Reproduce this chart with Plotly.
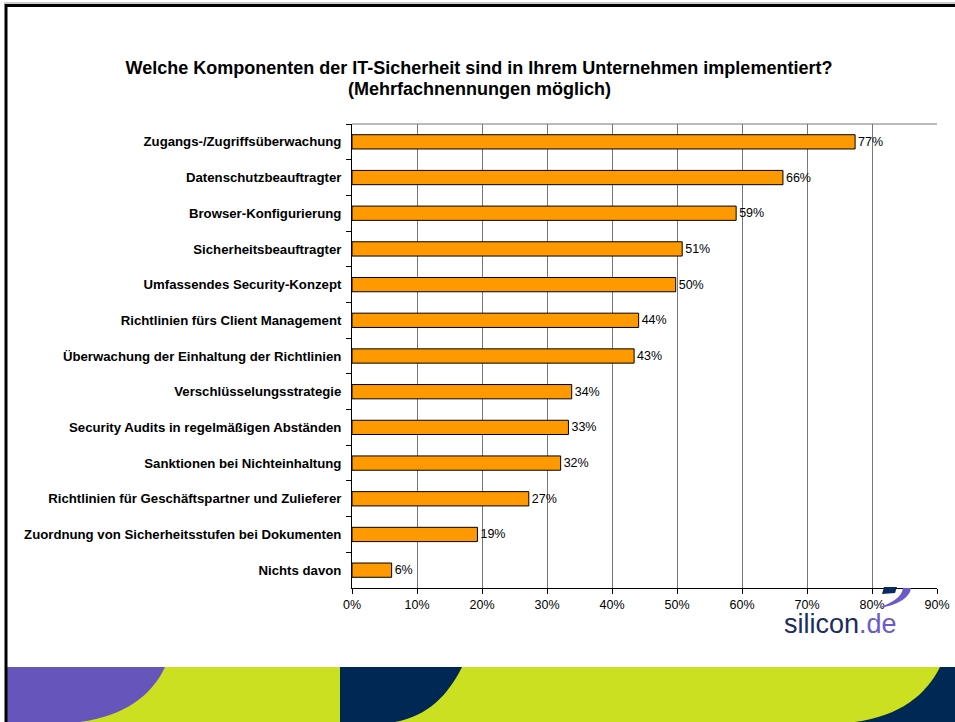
import plotly.graph_objects as go

# ---- data ----
categories = [
    "Zugangs-/Zugriffsüberwachung",
    "Datenschutzbeauftragter",
    "Browser-Konfigurierung",
    "Sicherheitsbeauftragter",
    "Umfassendes Security-Konzept",
    "Richtlinien fürs Client Management",
    "Überwachung der Einhaltung der Richtlinien",
    "Verschlüsselungsstrategie",
    "Security Audits in regelmäßigen Abständen",
    "Sanktionen bei Nichteinhaltung",
    "Richtlinien für Geschäftspartner und Zulieferer",
    "Zuordnung von Sicherheitsstufen bei Dokumenten",
    "Nichts davon",
]
values = [77.4, 66.3, 59.1, 50.8, 49.8, 44.1, 43.4, 33.8, 33.3, 32.1, 27.2, 19.3, 6.1]
value_labels = ["77%", "66%", "59%", "51%", "50%", "44%", "43%", "34%", "33%", "32%", "27%", "19%", "6%"]
x_ticks = [0, 10, 20, 30, 40, 50, 60, 70, 80, 90]
x_tick_labels = ["0%", "10%", "20%", "30%", "40%", "50%", "60%", "70%", "80%", "90%"]
title_line1 = "Welche Komponenten der IT-Sicherheit sind in Ihrem Unternehmen implementiert?"
title_line2 = "(Mehrfachnennungen möglich)"

W, H = 955, 722
FONT = "Liberation Sans, Arial, sans-serif"


def px(x):
    return x / W


def py(y):
    return 1 - y / H


fig = go.Figure()
fig.add_trace(go.Bar(
    y=categories,
    x=values,
    orientation="h",
    marker=dict(color="#FF9900", line=dict(color="#000000", width=1)),
    text=value_labels,
    textposition="outside",
    textfont=dict(family=FONT, size=12.5, color="#000000"),
    cliponaxis=False,
    hoverinfo="skip",
))

# plot area in pixels
L, R, T, B = 352, 937, 124, 588

fig.update_layout(
    width=W, height=H, autosize=False,
    margin=dict(l=0, r=0, t=0, b=0, autoexpand=False),
    paper_bgcolor="white", plot_bgcolor="white",
    showlegend=False,
    bargap=0.6,
    font=dict(family=FONT, color="#000000"),
    title=dict(
        text="<b>" + title_line1 + "</b>",
        x=px(479), xanchor="center", xref="paper",
        y=py(68), yanchor="middle", yref="paper",
        font=dict(family=FONT, size=18, color="#000000"),
    ),
    xaxis=dict(
        domain=[px(L), px(R)], automargin=False,
        range=[0, 90], tickmode="array", tickvals=x_ticks, ticktext=x_tick_labels,
        showgrid=True, gridcolor="#777777", gridwidth=1,
        showline=True, linecolor="#000000", linewidth=1,
        ticks="outside", ticklen=5, tickcolor="#000000",
        tickfont=dict(family=FONT, size=12.5, color="#000000"),
        zeroline=False, fixedrange=True,
    ),
    yaxis=dict(
        domain=[py(B), py(T)], automargin=False,
        autorange="reversed", type="category",
        showline=True, linecolor="#000000", linewidth=1,
        ticks="outside", ticklen=5, tickcolor="#000000", tickson="boundaries",
        tickfont=dict(family=FONT, size=13.2, color="#000000", weight="bold"),
        ticklabelstandoff=7,
        showgrid=False, zeroline=False, fixedrange=True,
    ),
)

fig.add_annotation(
    xref="paper", yref="paper", x=px(479), y=py(89),
    xanchor="center", yanchor="middle", showarrow=False,
    text="<b>" + title_line2 + "</b>",
    font=dict(family=FONT, size=18, color="#000000"),
)

shapes = []
# top border of the plot area (grey)
shapes.append(dict(type="line", xref="paper", yref="paper",
                   x0=px(L), x1=px(R), y0=py(T), y1=py(T),
                   line=dict(color="#777777", width=1)))


def ppath(cmds):
    out = []
    for c in cmds:
        if isinstance(c, str):
            out.append(c)
        else:
            out.append(f"{px(c[0]):.5f},{py(c[1]):.5f}")
    return " ".join(out)


# bottom decorative band
band_top, band_bot = 667, 722
shapes.append(dict(type="rect", xref="paper", yref="paper",
                   x0=px(6), x1=1, y0=py(band_bot), y1=py(band_top),
                   fillcolor="#CCE022", line=dict(width=0), layer="above"))
shapes.append(dict(type="path", xref="paper", yref="paper", layer="above",
                   path=ppath(["M", (6, band_top), "L", (165, band_top), "C", (152, 695), (125, 716), (80, band_bot),
                               "L", (6, band_bot), "Z"]),
                   fillcolor="#6655BB", line=dict(width=0)))
shapes.append(dict(type="path", xref="paper", yref="paper", layer="above",
                   path=ppath(["M", (340, band_top), "L", (462, band_top), "C", (448, 695), (428, 716), (395, band_bot),
                               "L", (340, band_bot), "Z"]),
                   fillcolor="#002855", line=dict(width=0)))
shapes.append(dict(type="path", xref="paper", yref="paper", layer="above",
                   path=ppath(["M", (940, band_top), "C", (926, 695), (900, 716), (855, band_bot),
                               "L", (W, band_bot), "L", (W, band_top), "Z"]),
                   fillcolor="#002855", line=dict(width=0)))

# logo swoosh
shapes.append(dict(type="path", xref="paper", yref="paper", layer="above",
                   path=ppath(["M", (884, 587), "L", (897, 587), "L", (895, 593), "L", (882, 594), "Z"]),
                   fillcolor="#0B2A5E", line=dict(width=0)))
shapes.append(dict(type="path", xref="paper", yref="paper", layer="above",
                   path=ppath(["M", (903, 588), "L", (911, 588), "C", (910, 598), (896, 606), (878, 608),
                               "C", (892, 603), (902, 597), (903, 588), "Z"]),
                   fillcolor="#6A5BC8", line=dict(width=0)))

# frame
shapes.append(dict(type="line", xref="paper", yref="paper", layer="above",
                   x0=px(4), x1=1, y0=py(3), y1=py(3), line=dict(color="#999999", width=1)))
shapes.append(dict(type="line", xref="paper", yref="paper", layer="above",
                   x0=px(5), x1=1, y0=py(5.5), y1=py(5.5), line=dict(color="#000000", width=3)))
shapes.append(dict(type="line", xref="paper", yref="paper", layer="above",
                   x0=px(6), x1=px(6), y0=py(4), y1=0, line=dict(color="#000000", width=3)))

fig.update_layout(shapes=shapes)

fig.add_annotation(
    xref="paper", yref="paper", x=px(840), y=py(624),
    xanchor="center", yanchor="middle", showarrow=False,
    text="<span style='color:#1B2D5E'>silicon</span><span style='color:#6A5BC8'>.de</span>",
    font=dict(family=FONT, size=27),
)

fig.write_html(
    "out.html",
    config={"displayModeBar": False, "responsive": False},
    post_script=(
        "document.documentElement.style.overflow='hidden';"
        "document.body.style.margin='0';document.body.style.overflow='hidden';"
        "var d=document.getElementById('{plot_id}');"
        "d.style.position='absolute';d.style.left='0px';d.style.top='0px';"
    ),
)
